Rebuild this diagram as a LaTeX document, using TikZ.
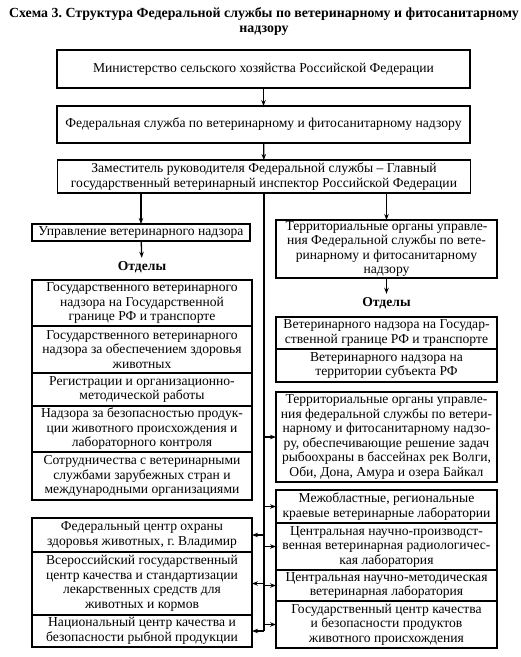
\documentclass[tikz,border=0pt]{standalone}
\usepackage{fontspec}
\setmainfont{Liberation Serif}
\usetikzlibrary{positioning, arrows.meta}
\frenchspacing

\begin{document}
\begin{tikzpicture}[x=1pt, y=1pt,
		txt/.style = {font=\fontsize{13.6}{14.5}\selectfont},
		bx/.style = {txt, draw, line width=1.3pt, align=center, inner xsep=2pt, inner ysep=1pt, outer sep=0pt},
		wide/.style = {bx, minimum width=413pt},
		lc/.style = {bx, minimum width=220pt},
		rc/.style = {bx, minimum width=221pt},
		ar/.style = {line width=1.3pt, -{Stealth[length=6pt, width=4.5pt]}}]
	\useasboundingbox (0,0) rectangle (521,-657);
	\node[font=\bfseries\fontsize{13.9}{15}\selectfont, align=center] (ttl) at (264,-22)
		{Схема 3. Структура Федеральной службы по ветеринарному и фитосанитарному\\надзору};
	% top
	\node[wide, minimum height=38pt] (min) at (263.5,-69) {Министерство сельского хозяйства Российской Федерации};
	\node[wide, minimum height=37pt] (fed) at (263.5,-124.5) {Федеральная служба по ветеринарному и фитосанитарному надзору};
	\node[wide, minimum height=33pt] (zam) at (264,-176.5)
		{Заместитель руководителя Федеральной службы -- Главный\\государственный ветеринарный инспектор Российской Федерации};
	\draw[ar] (min) -- (fed);
	\draw[ar] (fed) -- (zam);
	% left column
	\node[bx, minimum width=218pt, minimum height=17pt] (upr) at (141,-232.5) {Управление ветеринарного надзора};
	\node[txt, font=\bfseries\fontsize{13.6}{14.5}\selectfont] (otd1) at (142,-267) {Отделы};
	\node[lc, anchor=north, minimum height=46pt] (l1) at (142,-280)
		{Государственного ветеринарного\\надзора на Государственной\\границе РФ и транспорте};
	\node[lc, below=0pt of l1, minimum height=47pt] (l2)
		{Государственного ветеринарного\\надзора за обеспечением здоровья\\животных};
	\node[lc, below=0pt of l2, minimum height=33pt] (l3)
		{Регистрации и организационно-\\методической работы};
	\node[lc, below=0pt of l3, minimum height=46pt] (l4)
		{Надзора за безопасностью продук-\\ции животного происхождения и\\лабораторного контроля};
	\node[lc, below=0pt of l4, minimum height=48pt] (l5)
		{Сотрудничества с ветеринарными\\службами зарубежных стран и\\международными организациями};
	\node[lc, anchor=north, minimum height=34pt] (c1) at (142,-518)
		{Федеральный центр охраны\\здоровья животных, г.~Владимир};
	\node[lc, below=0pt of c1, minimum height=63pt] (c2)
		{Всероссийский государственный\\центр качества и стандартизации\\лекарственных средств для\\животных и кормов};
	\node[lc, below=0pt of c2, minimum height=32pt] (c3)
		{Национальный центр качества и\\безопасности рыбной продукции};
	\draw[ar] (zam.south -| upr) -- (upr);
	\draw[ar] (upr) -- (otd1);
	% right column
	\node[rc, anchor=north, minimum height=58pt] (ter) at (386.5,-220)
		{Территориальные органы управле-\\ния Федеральной службы по вете-\\ринарному и фитосанитарному\\надзору};
	\node[txt, font=\bfseries\fontsize{13.6}{14.5}\selectfont] (otd2) at (386.5,-303) {Отделы};
	\node[rc, anchor=north, minimum height=32pt] (r1) at (386.5,-317)
		{Ветеринарного надзора на Государ-\\ственной границе РФ и транспорте};
	\node[rc, below=0pt of r1, minimum height=33pt] (r2)
		{Ветеринарного надзора на\\территории субъекта РФ};
	\node[rc, anchor=north, minimum height=90pt] (ryb) at (386.5,-392)
		{Территориальные органы управле-\\ния федеральной службы по ветери-\\нарному и фитосанитарному надзо-\\ру, обеспечивающие решение задач\\рыбоохраны в бассейнах рек Волги,\\Оби, Дона, Амура и озера Байкал};
	\node[rc, anchor=north, minimum height=33pt] (m1) at (386.5,-490)
		{Межобластные, региональные\\краевые ветеринарные лаборатории};
	\node[rc, below=0pt of m1, minimum height=47pt] (m2)
		{Центральная научно-производст-\\венная ветеринарная радиологичес-\\кая лаборатория};
	\node[rc, below=0pt of m2, minimum height=31pt] (m3)
		{Центральная научно-методическая\\ветеринарная лаборатория};
	\node[rc, below=0pt of m3, minimum height=47pt] (m4)
		{Государственный центр качества\\и безопасности продуктов\\животного происхождения};
	\draw[ar] (zam.south -| ter) -- (ter);
	\draw[ar] (ter) -- (otd2);
	% trunk
	\coordinate (te) at (zam.south |- c3.east);
	\draw[line width=1.3pt] (zam.south) -- (te);
	\foreach \n in {ryb, m1, m2, m3, m4}
		\draw[ar] (zam.south |- \n.west) -- (\n.west);
	\foreach \n in {c1, c2, c3}
		\draw[ar] (zam.south |- \n.east) -- (\n.east);
\end{tikzpicture}
\end{document}
